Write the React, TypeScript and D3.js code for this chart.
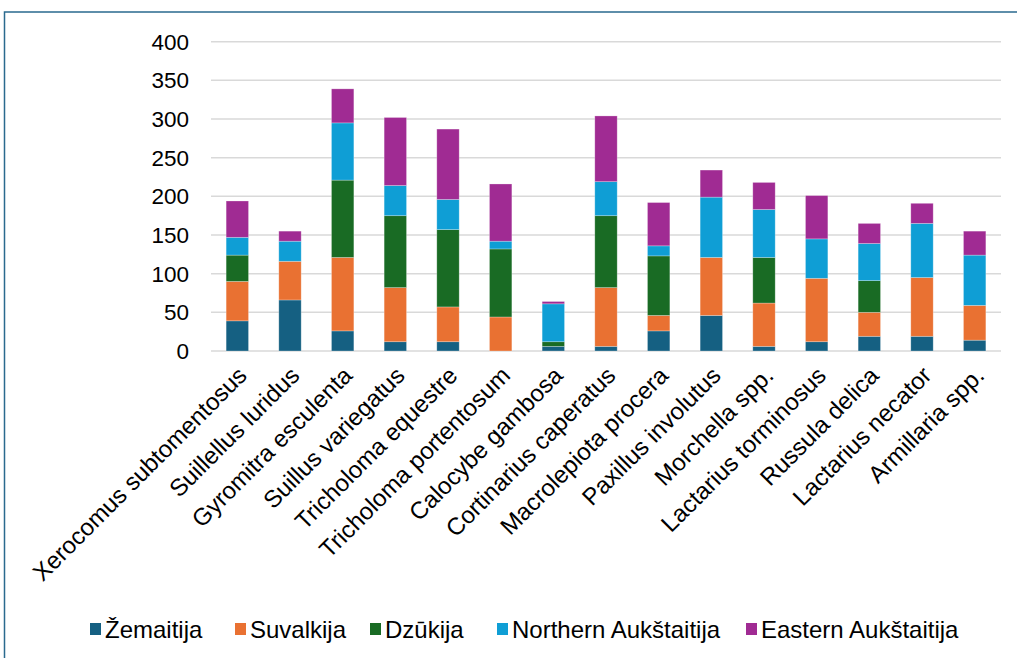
import React from 'react';
import * as d3 from 'd3';

const species = [
  'Xerocomus subtomentosus',
  'Suillellus luridus',
  'Gyromitra esculenta',
  'Suillus variegatus',
  'Tricholoma equestre',
  'Tricholoma portentosum',
  'Calocybe gambosa',
  'Cortinarius caperatus',
  'Macrolepiota procera',
  'Paxillus involutus',
  'Morchella spp.',
  'Lactarius torminosus',
  'Russula delica',
  'Lactarius necator',
  'Armillaria spp.',
];

const regions = ['Žemaitija', 'Suvalkija', 'Dzūkija', 'Northern Aukštaitija', 'Eastern Aukštaitija'];
const regionColors = ['#156082', '#e97132', '#196b24', '#0f9ed5', '#a02b93'];

const zemaitija = [39, 66, 26, 12, 12, 0, 6, 6, 26, 46, 6, 12, 19, 19, 14];
const suvalkija = [51, 50, 95, 70, 45, 44, 0, 76, 20, 75, 56, 82, 31, 76, 45];
const dzukija = [34, 0, 100, 93, 100, 88, 6, 93, 77, 0, 59, 0, 41, 0, 0];
const northern = [23, 26, 74, 39, 39, 10, 49, 44, 13, 78, 62, 51, 48, 70, 65];
const eastern = [47, 13, 44, 88, 91, 74, 3, 85, 56, 35, 35, 56, 26, 26, 31];

const yTicks = [0, 50, 100, 150, 200, 250, 300, 350, 400];

const W = 1017;
const H = 658;
const font = '"Liberation Sans", Arial, sans-serif';

export default function App() {
  const x = d3.scaleBand<string>().domain(species).range([211, 1001]).paddingInner(0.575).paddingOuter(0.2875);
  const y = d3.scaleLinear().domain([0, 400]).range([351, 41.7]);

  const rows = species.map((s, i) => ({
    name: s,
    v0: zemaitija[i],
    v1: suvalkija[i],
    v2: dzukija[i],
    v3: northern[i],
    v4: eastern[i],
  }));
  const stack = d3.stack<any>().keys(['v0', 'v1', 'v2', 'v3', 'v4']);
  const layers = stack(rows);

  // legend marker positions
  const legendX = [90, 235, 370, 497, 746];

  return (
    <svg
      width={W}
      height={H}
      style={{ position: 'absolute', left: 0, top: 0, display: 'block', background: '#fff' }}
      fontFamily={font}
    >
      <rect x={4.5} y={12} width={W + 10} height={H} fill="#fff" stroke="#2a6a8e" strokeWidth={1.5} />
      {yTicks.map((t) => (
        <g key={t}>
          <line x1={211} x2={1001} y1={y(t)} y2={y(t)} stroke="#d9d9d9" strokeWidth={1.5} />
          <text x={189} y={y(t)} dy="0.36em" textAnchor="end" fontSize={22.5} fill="#000">
            {t}
          </text>
        </g>
      ))}
      {layers.map((layer, li) => (
        <g key={li} fill={regionColors[li]}>
          {layer.map((d, i) =>
            d[1] - d[0] > 0 ? (
              <rect
                key={i}
                x={x(species[i])}
                width={x.bandwidth()}
                y={y(d[1])}
                height={y(d[0]) - y(d[1])}
                stroke="#ffffff"
                strokeOpacity={0.35}
                strokeWidth={0.75}
              />
            ) : null
          )}
        </g>
      ))}
      {species.map((s) => {
        const cx = (x(s) as number) + x.bandwidth() / 2 + 5;
        const cy = 371;
        return (
          <text
            key={s}
            transform={`translate(${cx},${cy}) rotate(-45)`}
            textAnchor="end"
            fontSize={24}
            fill="#000"
            dy="0.35em"
          >
            {s}
          </text>
        );
      })}
      {regions.map((r, i) => (
        <g key={r} transform={`translate(${legendX[i]},629)`}>
          <rect x={0} y={-6} width={11} height={12} fill={regionColors[i]} />
          <text x={15} y={0} dy="0.36em" fontSize={24} fill="#000">
            {r}
          </text>
        </g>
      ))}
    </svg>
  );
}
